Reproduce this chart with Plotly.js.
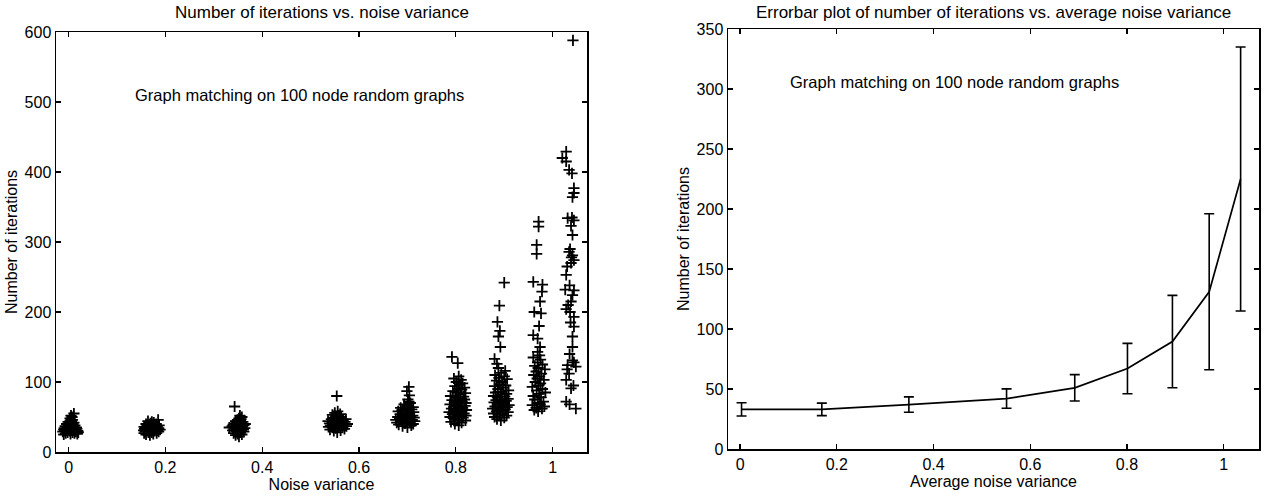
<!DOCTYPE html>
<html>
<head>
<meta charset="utf-8">
<script src="https://cdn.plot.ly/plotly-3.0.1.min.js"></script>
<style>html,body{margin:0;padding:0;background:#fff;}#chart{width:1268px;height:498px;}</style>
</head>
<body>
<div id="chart"></div>
<script>
// ---- Left panel: individual trials (noise variance, number of iterations) ----
var var1 = [-0.010,0.018,0.004,-0.006,0.012,0.020,-0.002,0.008,-0.012,0.015,0.002,-0.008,0.019,0.010,-0.004,0.006,-0.010,0.014,0.000,0.017,-0.006,0.008,0.003,-0.009,0.012,0.016,-0.003,0.006,0.010,-0.007,0.001,0.013,0.005,-0.004,0.009,0.002,0.011,-0.001,0.006,0.004,0.008,0.003,0.007,0.005,0.011];
var it1  = [25,26,26,27,27,28,28,28,29,29,30,30,30,31,31,31,32,32,32,33,33,33,34,34,35,35,36,36,37,37,38,38,39,40,40,41,42,43,44,45,46,48,50,52,55];

var var2 = [0.168,0.160,0.175,0.156,0.182,0.165,0.172,0.158,0.186,0.163,0.178,0.170,0.155,0.184,0.167,0.160,0.176,0.189,0.164,0.171,0.157,0.180,0.168,0.186,0.159,0.174,0.165,0.183,0.156,0.170,0.178,0.162,0.187,0.167,0.175,0.160,0.181,0.169,0.176,0.172,0.164,0.185];
var it2  = [24,25,26,27,27,28,28,29,29,30,30,30,31,31,31,32,32,32,33,33,33,34,34,34,35,35,35,36,36,37,37,38,38,39,39,40,40,41,42,43,44,46];

var var3 = [0.352,0.345,0.358,0.349,0.341,0.355,0.362,0.346,0.357,0.339,0.350,0.361,0.343,0.354,0.348,0.364,0.332,0.356,0.344,0.359,0.351,0.338,0.362,0.347,0.355,0.340,0.350,0.365,0.343,0.357,0.348,0.360,0.345,0.353,0.349,0.356,0.352,0.358,0.354,0.343];
var it3  = [22,24,25,26,27,28,29,30,30,31,31,32,33,33,34,34,35,35,36,36,37,37,38,38,39,39,40,40,41,42,42,43,44,45,46,47,48,50,52,65];

var var4 = [0.555,0.548,0.562,0.540,0.570,0.552,0.545,0.566,0.537,0.558,0.574,0.549,0.562,0.541,0.556,0.568,0.546,0.576,0.553,0.539,0.564,0.550,0.571,0.544,0.558,0.536,0.567,0.551,0.560,0.543,0.573,0.555,0.547,0.563,0.552,0.558,0.545,0.561,0.550,0.556,0.554];
var it4  = [28,30,31,32,33,34,35,35,36,36,37,37,38,38,39,39,40,40,41,41,42,42,43,43,44,44,45,45,46,47,47,48,49,50,51,52,53,54,56,58,80];

var var5 = [0.700,0.690,0.708,0.682,0.712,0.695,0.678,0.705,0.688,0.715,0.698,0.676,0.710,0.692,0.703,0.684,0.714,0.696,0.680,0.707,0.690,0.711,0.699,0.685,0.704,0.694,0.713,0.681,0.701,0.689,0.709,0.697,0.686,0.712,0.700,0.693,0.706,0.703,0.701,0.704,0.699,0.703];
var it5  = [35,37,38,39,40,41,42,43,44,44,45,46,46,47,48,48,49,50,50,51,52,52,53,54,55,56,57,58,59,60,61,62,63,64,66,68,70,72,75,81,87,93];

var var6 = [0.806,0.798,0.812,0.790,0.820,0.803,0.795,0.815,0.788,0.808,0.821,0.800,0.793,0.817,0.805,0.786,0.811,0.798,0.822,0.803,0.791,0.814,0.807,0.796,0.819,0.801,0.788,0.810,0.821,0.797,0.813,0.804,0.792,0.818,0.806,0.799,0.816,0.789,0.809,0.820,0.802,0.794,0.812,0.805,0.818,0.798,0.808,0.814,0.801,0.811,0.796,0.806,0.804,0.792];
var it6  = [38,40,42,43,45,46,48,49,50,51,52,53,54,55,56,57,58,59,60,61,62,63,64,65,66,67,68,69,70,71,72,73,74,75,76,78,79,80,82,84,85,87,89,90,92,94,96,98,100,103,105,108,127,136];

var var7 = [0.893,0.885,0.900,0.880,0.905,0.890,0.878,0.897,0.908,0.884,0.893,0.902,0.876,0.889,0.906,0.881,0.897,0.910,0.887,0.899,0.879,0.894,0.904,0.883,0.891,0.908,0.886,0.901,0.878,0.895,0.905,0.882,0.892,0.909,0.887,0.898,0.880,0.903,0.890,0.896,0.884,0.906,0.889,0.900,0.881,0.894,0.902,0.888,0.885,0.880,0.892,0.888,0.891,0.886,0.890,0.900];
var it7  = [45,47,49,50,52,53,55,56,57,58,60,61,62,63,64,65,66,67,68,70,71,72,73,74,75,76,78,79,80,82,83,85,86,88,90,92,94,95,97,100,102,104,106,108,110,113,116,120,126,133,150,165,173,186,209,242];

var var8 = [0.970,0.962,0.978,0.966,0.983,0.958,0.974,0.969,0.981,0.963,0.976,0.960,0.972,0.985,0.967,0.979,0.958,0.971,0.975,0.964,0.982,0.968,0.973,0.961,0.977,0.966,0.984,0.970,0.963,0.979,0.969,0.975,0.960,0.973,0.969,0.974,0.969,0.960,0.972,0.976,0.962,0.974,0.978,0.979,0.960,0.967,0.967,0.971,0.971];
var it8  = [58,60,62,63,65,67,68,70,72,75,78,80,83,85,88,90,93,95,98,100,103,105,108,110,112,115,118,120,123,125,128,132,135,138,143,150,162,167,180,198,200,215,229,239,243,283,296,322,329];

var var9 = [1.028,1.020,1.028,1.034,1.044,1.044,1.041,1.031,1.044,1.038,1.041,1.034,1.041,1.044,1.038,1.028,1.026,1.044,1.041,1.038,1.028,1.036,1.044,1.044,1.041,1.041,1.041,1.031,1.048,1.034,1.028,1.038,1.028,1.048,1.042,1.036,1.039,1.030,1.035,1.032,1.037,1.035,1.044,1.030,1.043,1.035,1.040,1.040];
var it9  = [429,420,415,403,377,370,364,334,331,323,310,286,281,274,270,253,232,231,224,215,204,200,193,179,165,150,131,124,122,112,103,91,72,62,588,290,278,265,238,210,185,140,128,118,95,68,335,398];

// ---- Right panel: mean and spread of iterations per average noise variance ----
var avgVar   = [0.003, 0.169, 0.349, 0.551, 0.692, 0.801, 0.894, 0.970, 1.035];
var meanIter = [33, 33, 37, 42, 51, 67, 89.5, 131, 225];
var stdIter  = [5.5, 5.2, 6.4, 8.1, 11, 21, 38.5, 65, 110];

// ---- Texts ----
var leftTitle  = 'Number of iterations vs. noise variance';
var rightTitle = 'Errorbar plot of number of iterations vs. average noise variance';
var noteText   = 'Graph matching on 100 node random graphs';
var xLeftTitle = 'Noise variance';
var xRightTitle = 'Average noise variance';
var yTitle = 'Number of iterations';

var FONT = 'Liberation Sans, Arial, Helvetica, sans-serif';
var W = 1268, H = 498;

var allVar = [].concat(var1,var2,var3,var4,var5,var6,var7,var8,var9);
var allIt  = [].concat(it1,it2,it3,it4,it5,it6,it7,it8,it9);

var traces = [
  {
    type: 'scatter', mode: 'markers', x: allVar, y: allIt,
    xaxis: 'x', yaxis: 'y',
    marker: {symbol: 'cross-thin', size: 8, color: '#000', line: {color: '#000', width: 1.8}},
    showlegend: false, hoverinfo: 'x+y'
  },
  {
    type: 'scatter', mode: 'lines', x: avgVar, y: meanIter,
    xaxis: 'x2', yaxis: 'y2',
    line: {color: '#000', width: 1.7},
    error_y: {type: 'data', array: stdIter, visible: true, color: '#000', thickness: 1.6, width: 5},
    showlegend: false
  }
];

function px2fx(p){ return p / W; }
function py2fy(p){ return 1 - p / H; }

var axBase = {
  showgrid: false, zeroline: false, showline: true, linecolor: '#000', linewidth: 1.5,
  mirror: 'ticks', ticks: 'inside', ticklen: 5, tickwidth: 1.2, tickcolor: '#000',
  tickfont: {family: FONT, size: 16, color: '#000'}, automargin: false
};

function ax(extra){ return Object.assign({}, axBase, extra); }

var layout = {
  width: W, height: H,
  margin: {l: 0, r: 0, t: 0, b: 0},
  paper_bgcolor: '#fff', plot_bgcolor: '#fff',
  font: {family: FONT, color: '#000', size: 16},
  xaxis: ax({domain: [px2fx(56), px2fx(587)], range: [-0.026, 1.071], tickvals: [0,0.2,0.4,0.6,0.8,1], ticktext: ['0','0.2','0.4','0.6','0.8','1'],
    title: {text: xLeftTitle, font: {family: FONT, size: 16, color: '#000'}, standoff: 1}, anchor: 'y'}),
  yaxis: ax({domain: [py2fy(452), py2fy(32)], range: [0, 600], dtick: 100,
    title: {text: yTitle, font: {family: FONT, size: 16, color: '#000'}, standoff: 3}, anchor: 'x'}),
  xaxis2: ax({domain: [px2fx(728), px2fx(1259)], range: [-0.025, 1.073], tickvals: [0,0.2,0.4,0.6,0.8,1], ticktext: ['0','0.2','0.4','0.6','0.8','1'],
    title: {text: xRightTitle, font: {family: FONT, size: 16, color: '#000'}, standoff: 1}, anchor: 'y2'}),
  yaxis2: ax({domain: [py2fy(449), py2fy(29)], range: [0, 350], dtick: 50,
    title: {text: yTitle, font: {family: FONT, size: 16, color: '#000'}, standoff: 3}, anchor: 'x2'}),
  annotations: [
    {text: leftTitle, xref: 'paper', yref: 'paper', x: px2fx(321.5), y: py2fy(13), xanchor: 'center', yanchor: 'middle', showarrow: false, font: {family: FONT, size: 17, color: '#000'}},
    {text: rightTitle, xref: 'paper', yref: 'paper', x: px2fx(993.5), y: py2fy(13), xanchor: 'center', yanchor: 'middle', showarrow: false, font: {family: FONT, size: 17, color: '#000'}},
    {text: noteText, xref: 'x', yref: 'y', x: 0.133, y: 510, xanchor: 'left', yanchor: 'middle', showarrow: false, font: {family: FONT, size: 16.5, color: '#000'}},
    {text: noteText, xref: 'x2', yref: 'y2', x: 0.099, y: 306, xanchor: 'left', yanchor: 'middle', showarrow: false, font: {family: FONT, size: 16.5, color: '#000'}}
  ]
};

Plotly.newPlot('chart', traces, layout, {displayModeBar: false, staticPlot: true});
</script>
</body>
</html>
